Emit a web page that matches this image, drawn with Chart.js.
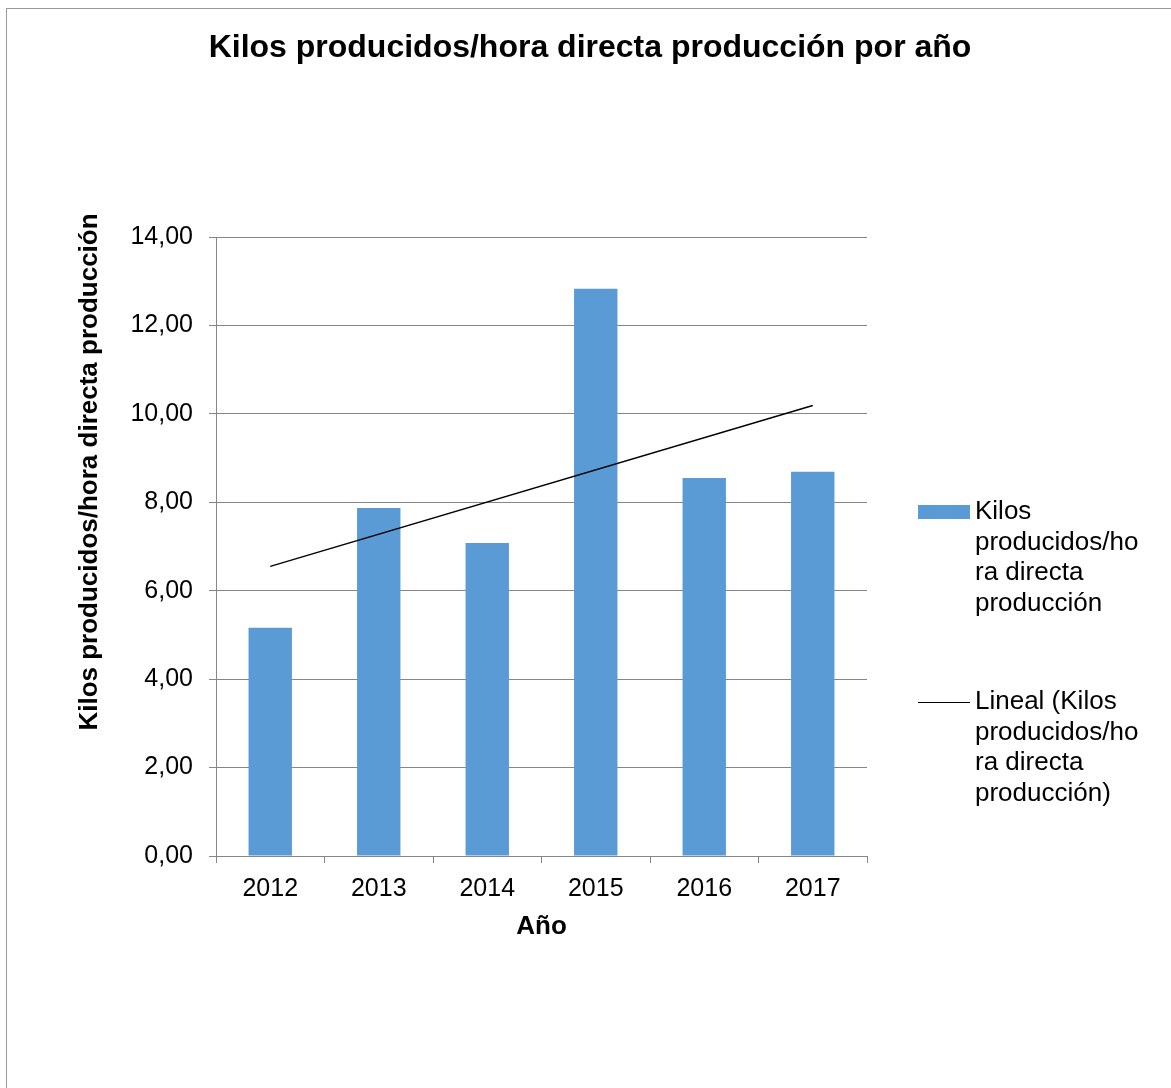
<!DOCTYPE html>
<html>
<head>
<meta charset="utf-8">
<script src="https://cdn.jsdelivr.net/npm/chart.js@4"></script>
<style>
  html, body { margin: 0; padding: 0; background: #fff; }
  #wrap { width: 1171px; height: 1088px; }
</style>
</head>
<body>
<div id="wrap"><canvas id="kilosChart" width="1171" height="1088"></canvas></div>
<script>
// Datos
const years = ["2012", "2013", "2014", "2015", "2016", "2017"];
const kilosPorHora = [5.16, 7.87, 7.08, 12.83, 8.55, 8.69];
// Línea de tendencia (Lineal): extremos
const trendStart = 6.55;
const trendEnd = 10.19;
const yTicks = [0, 2, 4, 6, 8, 10, 12, 14];

const chartTitle = "Kilos producidos/hora directa producción por año";
const seriesName = "Kilos producidos/hora directa producción";
const trendName = "Lineal (Kilos producidos/hora directa producción)";
const legendLines = [
  ["Kilos", "producidos/ho", "ra directa", "producción"],
  ["Lineal (Kilos", "producidos/ho", "ra directa", "producción)"],
];

const FONT = "'Liberation Sans', Arial, sans-serif";
const GRID = "#868686";
const BLUE = "#5b9bd5";

const trendData = years.map((y, i) =>
  i === 0 ? trendStart : i === years.length - 1 ? trendEnd : null
);

// Borde, título, título del eje Y y leyenda dibujados a mano
const decorations = {
  id: "decorations",
  beforeDraw(chart) {
    const ctx = chart.ctx;
    ctx.save();
    ctx.fillStyle = "#fff";
    ctx.fillRect(0, 0, chart.width, chart.height);
    ctx.strokeStyle = "#9a9a9a";
    ctx.lineWidth = 1;
    ctx.strokeRect(6.5, 8.5, chart.width + 20, chart.height + 20);
    ctx.restore();
  },
  afterDraw(chart) {
    const ctx = chart.ctx;
    // título
    ctx.save();
    ctx.font = "bold 32px " + FONT;
    ctx.fillStyle = "#000";
    ctx.textAlign = "center";
    ctx.textBaseline = "middle";
    ctx.fillText(chartTitle, 590, 48);
    ctx.restore();

    // título del eje Y
    ctx.save();
    ctx.translate(90, 472);
    ctx.rotate(-Math.PI / 2);
    ctx.font = "bold 26px " + FONT;
    ctx.fillStyle = "#000";
    ctx.textAlign = "center";
    ctx.textBaseline = "middle";
    ctx.fillText(seriesName, 0, 0);
    ctx.restore();

    // leyenda
    ctx.save();
    ctx.font = "26px " + FONT;
    ctx.fillStyle = "#000";
    ctx.textAlign = "left";
    ctx.textBaseline = "middle";
    const entryTops = [512, 702];
    legendLines.forEach((lines, k) => {
      const y0 = entryTops[k];
      if (k === 0) {
        ctx.fillStyle = BLUE;
        ctx.fillRect(918, y0 - 7, 52, 14);
      } else {
        ctx.strokeStyle = "#000";
        ctx.lineWidth = 1.2;
        ctx.beginPath();
        ctx.moveTo(918, y0 + 0.5);
        ctx.lineTo(970, y0 + 0.5);
        ctx.stroke();
      }
      ctx.fillStyle = "#000";
      lines.forEach((t, j) => ctx.fillText(t, 975, y0 + j * 30.5));
    });
    ctx.restore();
  },
};

new Chart(document.getElementById("kilosChart"), {
  data: {
    labels: years,
    datasets: [
      {
        type: "line",
        label: trendName,
        data: trendData,
        borderColor: "#000",
        borderWidth: 1.5,
        pointRadius: 0,
        spanGaps: true,
        fill: false,
        order: 0,
      },
      {
        type: "bar",
        label: seriesName,
        data: kilosPorHora,
        backgroundColor: BLUE,
        barPercentage: 0.4,
        categoryPercentage: 1,
        order: 1,
      },
    ],
  },
  options: {
    responsive: false,
    animation: false,
    layout: { padding: { left: 0, right: 304, top: 237, bottom: 0 } },
    plugins: {
      legend: { display: false },
      tooltip: { enabled: false },
      title: { display: false },
    },
    scales: {
      x: {
        grid: {
          drawOnChartArea: false,
          drawTicks: true,
          tickLength: 7,
          color: GRID,
        },
        border: { color: GRID, width: 1 },
        ticks: { color: "#000", font: { family: FONT, size: 25 }, padding: 11 },
        title: {
          display: true,
          text: "Año",
          color: "#000",
          font: { family: FONT, size: 26, weight: "bold" },
          padding: { top: 2, bottom: 146 },
        },
        afterFit(scale) {
          scale.height = 232;
        },
      },
      y: {
        min: 0,
        max: 14,
        afterBuildTicks(scale) {
          scale.ticks = yTicks.map((v) => ({ value: v }));
        },
        grid: { color: GRID, tickLength: 7, drawTicks: true },
        border: { color: GRID, width: 1 },
        ticks: {
          color: "#000",
          font: { family: FONT, size: 25 },
          padding: 16,
          callback: (v) => v.toFixed(2).replace(".", ","),
        },
        afterFit(scale) {
          scale.width = 216;
        },
      },
    },
  },
  plugins: [decorations],
});
</script>
</body>
</html>
